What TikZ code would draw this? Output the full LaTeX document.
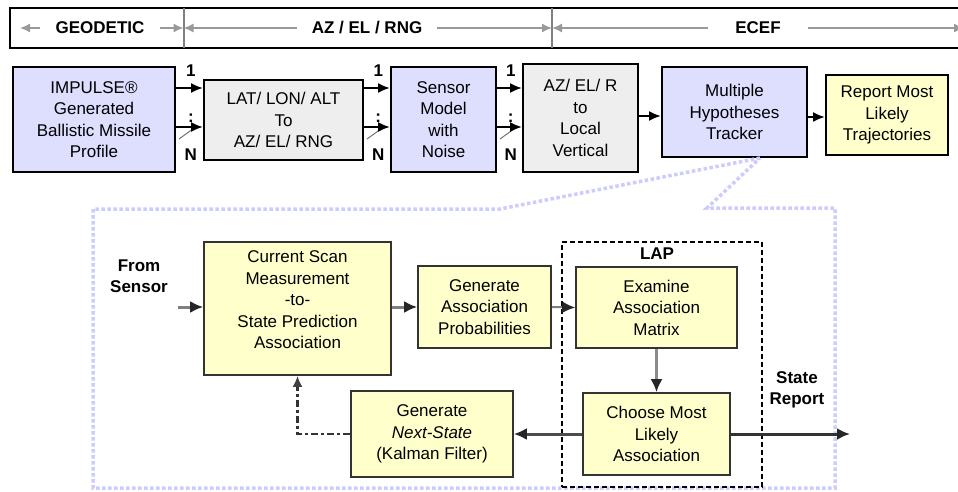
\documentclass[tikz,border=0pt]{standalone}
\usepackage{fontspec}
\setmainfont{Liberation Sans}
\usetikzlibrary{arrows.meta,calc}
\definecolor{lavbox}{RGB}{222,222,255}
\definecolor{greybox}{RGB}{238,238,238}
\definecolor{yelbox}{RGB}{255,255,204}
\definecolor{calloutblue}{RGB}{204,204,255}
\begin{document}
\begin{tikzpicture}[x=1pt,y=-1pt,
  every node/.style={font=\fontsize{17}{21.5}\selectfont, align=center, inner sep=0pt},
  bold/.style={font=\fontsize{17}{21.5}\selectfont\bfseries},
  topbox/.style={draw=black, line width=2pt},
  lowbox/.style={draw=black!80, line width=1.6pt, fill=yelbox},
  banlabel/.style={bold, inner xsep=15pt},
  banarrow/.style={draw=black!40, line width=1.5pt, -{Latex[length=10pt,width=9pt]}},
  busarrow/.style={draw=black, line width=2pt, -{Latex[length=12pt,width=10pt]}},
  flow/.style={line width=3pt, -{Latex[length=13pt,width=12pt,color=black!85]}},
  callout/.style={draw=calloutblue, line width=3.5pt, dash pattern=on 3.5pt off 2.5pt}]
  \useasboundingbox (0,0) rectangle (958,491);

  % frames banner
  \draw[line width=2.5pt] (10,8) rectangle (975,48);
  \draw[black!50, line width=2pt] (183.5,8) -- (183.5,48) (552,8) -- (552,48);
  \node[banlabel] (geo) at (100,28) {GEODETIC};
  \node[banlabel] (aer) at (367,28) {AZ / EL / RNG};
  \node[banlabel, inner xsep=27pt] (ecef) at (758,28) {ECEF};
  \coordinate (b0) at (20,28);
  \coordinate (b1) at (183.5,28);
  \coordinate (b2) at (552,28);
  \coordinate (b3) at (964,28);
  \draw[banarrow] (geo) -- (b0);
  \draw[banarrow] (geo) -- (b1);
  \draw[banarrow] (aer) -- (b1);
  \draw[banarrow] (aer) -- (b2);
  \draw[banarrow] (ecef) -- (b2);
  \draw[banarrow] (ecef) -- (b3);

  % zoom callout
  \node[topbox, fill=lavbox, minimum width=145, minimum height=90] (mht) at (734.5,112) {Multiple\\Hypotheses\\Tracker};
  \coordinate (tip) at ($(mht.south)+(25.5,0)$);
  \draw[callout] (tip) -- (500,209) -- (93,209) -- (93,488) -- (835,488) -- (835,208) -- (707,208) -- cycle;

  % top chain
  \node[topbox, fill=lavbox, minimum width=162, minimum height=105] (impulse) at (94,119.5) {IMPULSE®\\Generated\\Ballistic Missile\\Profile};
  \node[topbox, fill=greybox, minimum width=159, minimum height=80] (lat) at (283.5,120) {LAT/ LON/ ALT\\To\\AZ/ EL/ RNG};
  \node[topbox, fill=lavbox, minimum width=105, minimum height=105] (sensor) at (443.5,119.5) {Sensor\\Model\\with\\Noise};
  \node[topbox, fill=greybox, minimum width=115, minimum height=108] (azel) at (580.5,118) {AZ/ EL/ R\\to\\Local\\Vertical};
  \node[topbox, fill=yelbox, minimum width=122, minimum height=80] (report) at (887,115) {Report Most\\Likely\\Trajectories};

  \foreach \a/\b in {impulse/lat,lat/sensor,sensor/azel}{
    \node[bold] (one-\a) at ($(\a.east |- 0,71)!0.55!(\b.west |- 0,71)$) {1};
    \node[bold] (dots-\a) at ($(\a.east |- 0,118)!0.55!(\b.west |- 0,118)$) {:};
    \node[bold] (n-\a) at ($(\a.east |- 0,155)!0.55!(\b.west |- 0,155)$) {N};
    \draw[black!55, line width=1pt] ($(\a.east |- 0,139)+(3,0)$) -- ($(\a.east |- 0,126)+(21,0)$);
    \draw[busarrow] (\a.east |- 0,88) -- (\b.west |- 0,88);
    \draw[busarrow] (\a.east |- 0,127) -- (\b.west |- 0,127);
  }
  \draw[busarrow] (azel.east |- 0,116) -- (mht.west |- 0,116);
  \draw[busarrow] (mht.east |- 0,117) -- (report.west |- 0,117);

  % tracker loop
  \node[draw=black, line width=2pt, dash pattern=on 5pt off 3pt, minimum width=200, minimum height=245] (lap) at (662,364.5) {};
  \node[bold] (laplabel) at (657,254) {LAP};
  \node[bold] (from) at (139,276) {From\\Sensor};
  \node[bold] (staterep) at (797,390) {State\\Report};
  \coordinate (in) at (178,307);
  \coordinate (out) at (850,434);

  \node[lowbox, minimum width=187, minimum height=133] (scan) at (297.5,308.5) {};
  \node (scantext) at (297.5,300) {Current Scan\\Measurement\\-to-\\State Prediction\\Association};
  \node[lowbox, minimum width=133, minimum height=82] (gen) at (484.5,307) {Generate\\Association\\Probabilities};
  \node[lowbox, minimum width=161, minimum height=81] (examine) at (656.5,307.5) {Examine\\Association\\Matrix};
  \node[lowbox, minimum width=147, minimum height=82] (choose) at (656.5,434) {Choose Most\\Likely\\Association};
  \node[lowbox, minimum width=162, minimum height=86] (kalman) at (432,434) {Generate\\\textit{Next-State}\\(Kalman Filter)};

  \draw[flow, black!50] (in) -- (scan.west |- in);
  \draw[flow, black!50] (scan.east |- gen.west) -- (gen.west);
  \draw[flow, black!50, line width=2pt] (gen.east) -- (examine.west);
  \draw[flow, black!45] (examine.south) -- (choose.north);
  \draw[flow, black!70] (choose.west) -- (kalman.east);
  \draw[flow, black!80] (choose.east) -- (out);
  \draw[black!80, line width=2.2pt, dash pattern=on 7pt off 3pt on 3pt off 3pt, -{Latex[length=11pt,width=10pt,color=black!75]}] (kalman.west) -| (scan.south);
\end{tikzpicture}
\end{document}
